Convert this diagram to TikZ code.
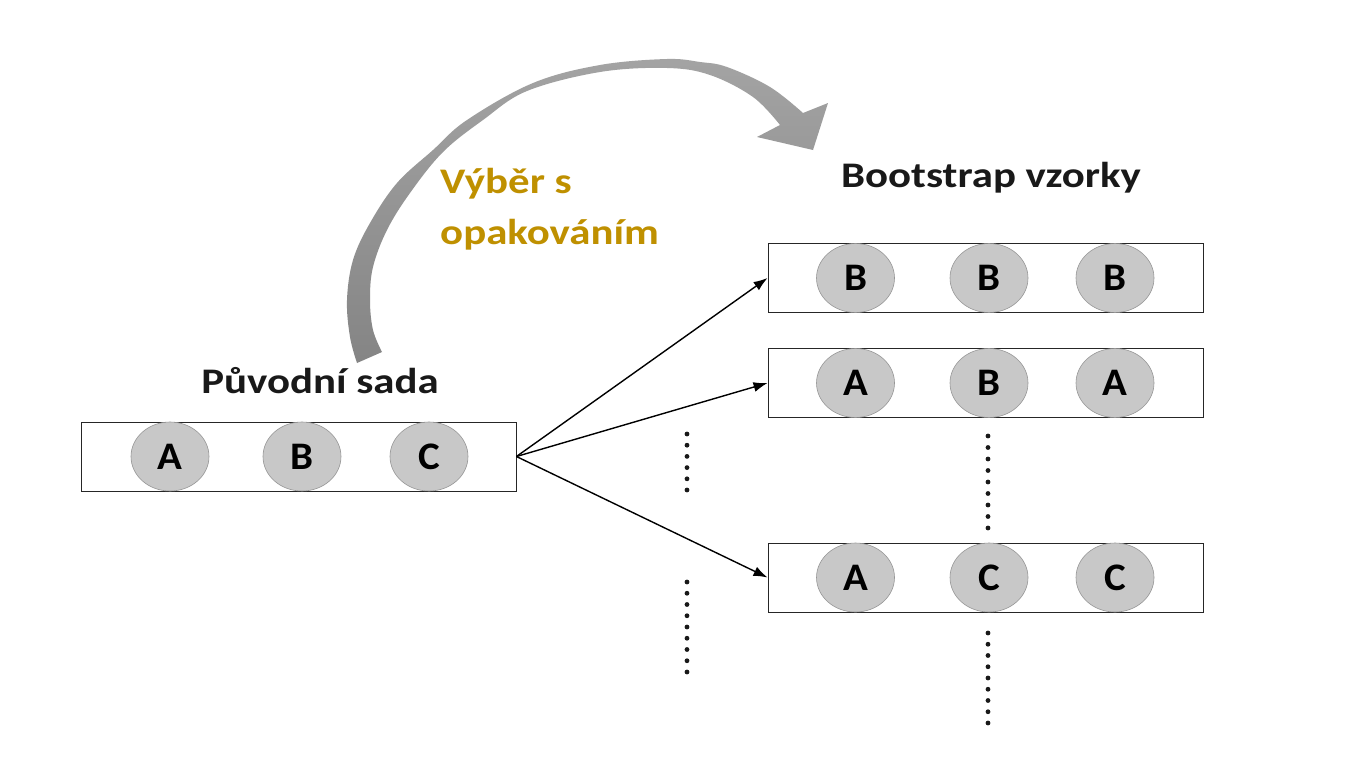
\documentclass[tikz,border=0pt]{standalone}
\usepackage{fontspec}
\setmainfont{Carlito}[FakeStretch=1.19]
\newfontfamily\ballfont{Carlito}[FakeStretch=1.05]
\usetikzlibrary{shapes.geometric,arrows.meta}
\definecolor{goldtxt}{RGB}{191,144,0}
\definecolor{ballfill}{RGB}{200,200,200}
\definecolor{balldraw}{RGB}{150,150,150}
\begin{document}
\begin{tikzpicture}[x=1pt,y=-1pt,
  setbox/.style={draw=black!85,line width=0.9pt,minimum width=435pt,minimum height=69pt,inner sep=0pt},
  ball/.style={ellipse,fill=ballfill,draw=balldraw,line width=0.6pt,minimum width=78pt,minimum height=69pt,inner sep=0pt,
    font=\ballfont\fontsize{39}{40}\selectfont\bfseries},
  title/.style={font=\fontsize{36}{40}\selectfont\bfseries,text=black!90,inner sep=0pt},
  goldlabel/.style={font=\fontsize{36}{40}\selectfont\bfseries,text=goldtxt,inner sep=0pt},
  link/.style={-{Latex[length=14pt,width=10pt]},line width=1.4pt,black},
  dotmark/.style={fill=black!90}
]
\useasboundingbox[fill=white] (0,0) rectangle (1365,768);

% big curved gray arrow
\shade[top color=black!36,bottom color=black!48]
  plot[smooth,tension=0.6] coordinates {(357,363) (350,337) (347,300) (353,260) (370,223) (397,183) (433,150) (467,120) (533,83) (600,65) (667,59) (700,62) (727,67) (770,87) (803,113)}
  -- (828,103) -- (813,150) -- (757,137) -- (780,125)
  -- plot[smooth,tension=0.6] coordinates {(780,125) (753,97) (710,75) (667,68) (600,72) (527,91) (483,120) (443,152) (410,193) (387,230) (373,267) (370,300) (373,330) (382,352)}
  -- cycle;

% titles
\node[title,anchor=base] (ttlorig) at (320,393) {Původní sada};
\node[title,anchor=base] (ttlboot) at (991,187) {Bootstrap vzorky};
\node[goldlabel,anchor=base west] (lbl1) at (440,193) {Výběr s};
\node[goldlabel,anchor=base west] (lbl2) at (440,244) {opakováním};

% original set
\node[setbox] (orig) at (298.5,456.5) {};
\node[ball] (oa) at (170,456.5) {A};
\node[ball] (ob) at (302,456.5) {B};
\node[ball] (oc) at (429,456.5) {C};

% bootstrap samples
\node[setbox] (s1) at (985.5,278) {};
\node[ball] (s1a) at (855.5,278) {B};
\node[ball] (s1b) at (989,278) {B};
\node[ball] (s1c) at (1115,278) {B};

\node[setbox] (s2) at (985.5,383) {};
\node[ball] (s2a) at (855.5,383) {A};
\node[ball] (s2b) at (989,383) {B};
\node[ball] (s2c) at (1115,383) {A};

\node[setbox] (s3) at (985.5,577.5) {};
\node[ball] (s3a) at (855.5,577.5) {A};
\node[ball] (s3b) at (989,577.5) {C};
\node[ball] (s3c) at (1115,577.5) {C};

% connectors
\draw[link] (orig.east) -- (s1.west);
\draw[link] (orig.east) -- (s2.west);
\draw[link] (orig.east) -- (s3.west);

% dotted continuations
\foreach \k in {0,...,5} \fill[dotmark] (687,434+\k*11.2) circle (2.4pt);
\foreach \k in {0,...,8} \fill[dotmark] (687,582+\k*11.25) circle (2.4pt);
\foreach \k in {0,...,8} \fill[dotmark] (988,436+\k*11.5) circle (2.4pt);
\foreach \k in {0,...,8} \fill[dotmark] (988,633+\k*11.25) circle (2.4pt);
\end{tikzpicture}
\end{document}
